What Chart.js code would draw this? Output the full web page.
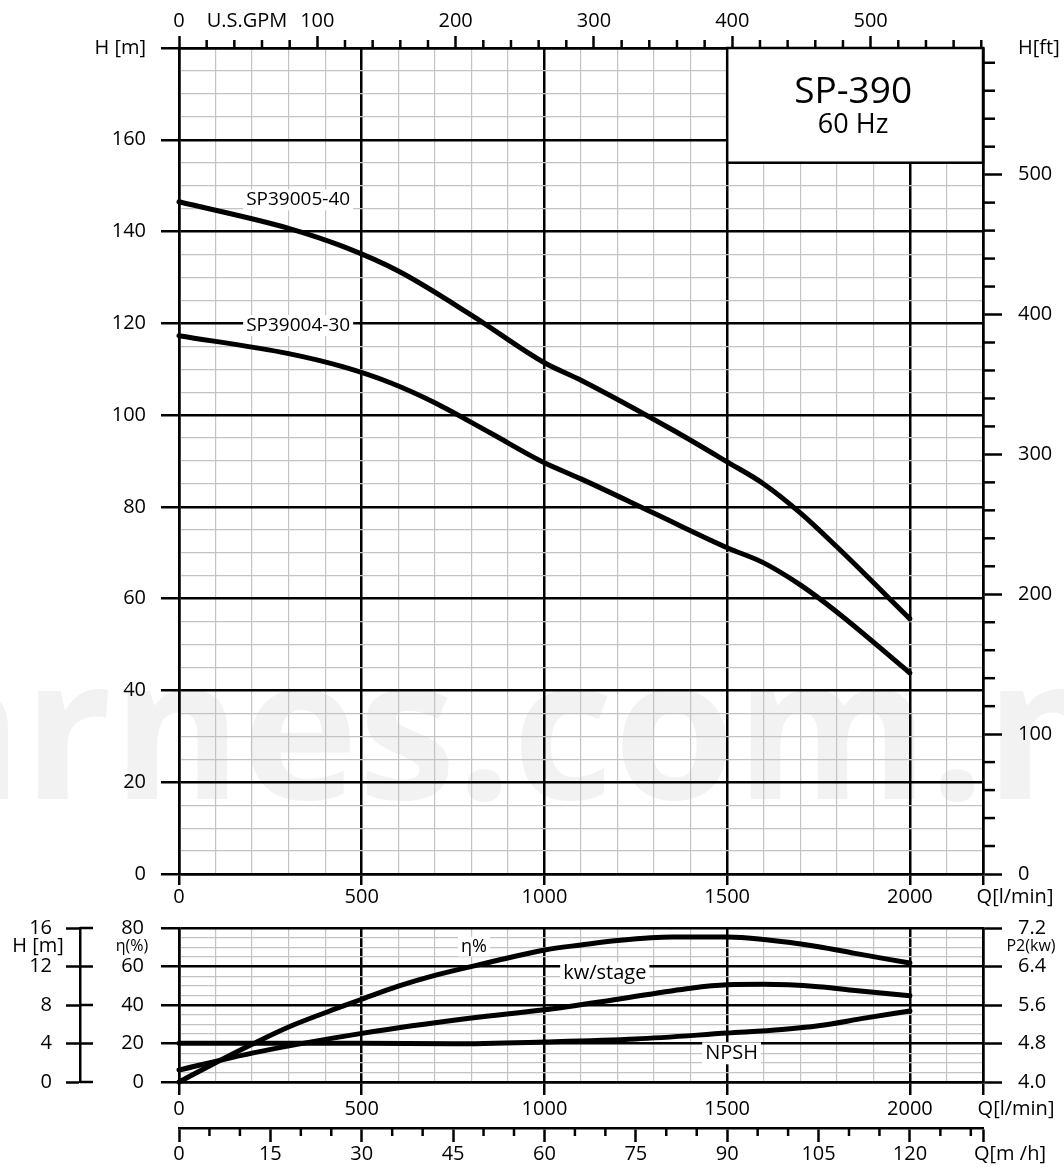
<!DOCTYPE html>
<html>
<head>
<meta charset="utf-8">
<script src="https://cdn.jsdelivr.net/npm/chart.js@4.4.1/dist/chart.umd.min.js"></script>
<style>
  html, body { margin: 0; padding: 0; background: #fff; }
  #wrap { position: relative; width: 1064px; height: 1168px; overflow: hidden; }
  #headChart { position: absolute; left: 0; top: 0; width: 1064px; height: 912px; }
  #perfChart { position: absolute; left: 0; top: 912px; width: 1064px; height: 256px; }
</style>
</head>
<body>
<div id="wrap">
  <canvas id="headChart" width="1064" height="912"></canvas>
  <canvas id="perfChart" width="1064" height="256"></canvas>
</div>
<script>
// ---------------- DATA ----------------
const Q_MAX = 2200;                 // l/min
const H_MAX = 180;                  // m

const curveNames = ["SP39005-40", "SP39004-30"];
const modelName = "SP-390";
const modelFreq = "60 Hz";

const qHead5 = [0, 300, 450, 600, 800, 1000, 1100, 1350, 1500, 1600, 1700, 1800, 2000];
const head5  = [146.5, 140.7, 136.7, 131.4, 121.8, 111.4, 107.6, 96.8, 89.8, 85.0, 78.7, 71.3, 55.6];

const qHead4 = [0, 300, 450, 580, 700, 850, 1000, 1100, 1300, 1500, 1600, 1700, 1800, 2000];
const head4  = [117.3, 113.4, 110.5, 107.0, 102.7, 96.2, 89.6, 86.1, 78.6, 71.1, 67.8, 63.0, 57.1, 43.8];

const qEta = [0, 100, 200, 300, 450, 500, 600, 700, 850, 1000, 1100, 1200, 1350, 1500, 1600, 1750, 1850, 2000];
const eta  = [0, 10.0, 19.6, 28.6, 39.5, 43.0, 49.8, 55.4, 62.2, 68.6, 71.2, 73.5, 75.3, 75.3, 74, 70.3, 66.8, 61.8];

const qKw   = [0, 200, 500, 800, 1000, 1200, 1400, 1500, 1600, 1750, 1850, 2000];
const kwStg = [4.25, 4.60, 5.01, 5.33, 5.50, 5.72, 5.95, 6.02, 6.03, 5.98, 5.90, 5.79];

const qNpsh = [0, 500, 750, 1000, 1250, 1500, 1650, 1750, 1880, 2000];
const npsh  = [4.02, 4.02, 3.97, 4.16, 4.47, 5.08, 5.45, 5.84, 6.66, 7.38];

// unit conversions for the secondary axes
const LMIN_PER_GPM = 3.785;
const LMIN_PER_M3H = 1000 / 60;
const M_PER_FT = 0.3048;

// ---------------- STYLE ----------------
const FONT = "'Open Sans', 'DejaVu Sans', sans-serif";
const BLACK = "#000";
const MINOR = "#c3c3c3";
const MAJOR_W = 2.5;
const MINOR_W = 1.2;

const pts = (xs, ys) => xs.map((x, i) => ({ x: x, y: ys[i] }));
const isMajorQ = v => v % 500 === 0 || v === Q_MAX;

// fixed box width, and no extra label padding pushed into the layout
const fixWidth = w => s => { s.width = w; s.paddingTop = 0; s.paddingBottom = 0; };

function curve(label, data, axis) {
    return {
        label: label,
        data: data,
        yAxisID: axis,
        borderColor: BLACK,
        borderWidth: 5,
        pointRadius: 0,
        borderCapStyle: "round",
        borderJoinStyle: "round",
        cubicInterpolationMode: "monotone",
        clip: false
    };
}

function qScale(height, tickLen, pad) {
    return {
        type: "linear", position: "bottom", min: 0, max: Q_MAX, weight: 0,
        afterFit: s => { s.height = height; },
        grid: {
            color: c => isMajorQ(c.tick.value) ? BLACK : MINOR,
            lineWidth: c => isMajorQ(c.tick.value) ? MAJOR_W : MINOR_W,
            tickColor: c => isMajorQ(c.tick.value) ? BLACK : "rgba(0,0,0,0)",
            tickLength: tickLen, tickWidth: MAJOR_W
        },
        border: { color: BLACK, width: MAJOR_W },
        ticks: {
            stepSize: 100, autoSkip: false, maxRotation: 0, minRotation: 0, padding: pad,
            color: BLACK, font: { family: FONT, size: 20 },
            callback: v => (v % 500 === 0 && v <= 2000 ? String(v) : "")
        }
    };
}

function line(c, x1, y1, x2, y2) {
    c.beginPath(); c.moveTo(x1, y1); c.lineTo(x2, y2); c.stroke();
}

function text(c, str, x, y, size, align) {
    c.font = `${size}px ${FONT}`;
    c.fillStyle = BLACK;
    c.textAlign = align || "center";
    c.textBaseline = "middle";
    c.fillText(str, x, y);
}

function boxedText(c, str, x, y, size) {
    c.font = `${size}px ${FONT}`;
    const w = c.measureText(str).width;
    c.fillStyle = "#fff";
    c.fillRect(x - w / 2 - 3, y - size * 0.55, w + 6, size * 1.1);
    text(c, str, x, y, size);
}

// ---------------- HEAD CHART ----------------
const headDecor = {
    id: "headDecor",
    beforeDraw(chart) {
        const c = chart.ctx;
        c.save();
        c.fillStyle = "#fff";
        c.fillRect(0, 0, chart.width, chart.height);
        // faint watermark
        c.font = `bold 197px ${FONT}`;
        c.fillStyle = "#f2f2f2";
        c.textAlign = "left";
        c.textBaseline = "alphabetic";
        const x0 = 456 - c.measureText("arnes").width;
        c.fillText("arnes.com.n", x0, 799);
        c.restore();
    },
    beforeDatasetsDraw(chart) {
        const c = chart.ctx;
        const { x, y } = chart.scales;
        const l = x.getPixelForValue(1500), r = x.getPixelForValue(Q_MAX);
        const t = y.getPixelForValue(H_MAX), b = y.getPixelForValue(155);
        c.save();
        c.fillStyle = "#fff";
        c.fillRect(l, t, r - l, b - t);
        c.strokeStyle = BLACK;
        c.lineWidth = MAJOR_W;
        c.strokeRect(l, t, r - l, b - t);
        c.font = `37px ${FONT}`;
        c.fillStyle = BLACK;
        c.textAlign = "center";
        c.textBaseline = "alphabetic";
        c.fillText(modelName, (l + r) / 2 - 2, t + 55);
        c.font = `27px ${FONT}`;
        c.fillText(modelFreq, (l + r) / 2 - 2, t + 85);
        c.restore();
    },
    afterDatasetsDraw(chart) {
        const c = chart.ctx;
        const { x, y } = chart.scales;
        c.save();
        boxedText(c, curveNames[0], x.getPixelForValue(326), y.getPixelForValue(146.9), 19);
        boxedText(c, curveNames[1], x.getPixelForValue(326), y.getPixelForValue(119.5), 19);
        c.restore();
    },
    afterDraw(chart) {
        const c = chart.ctx;
        const { x, gpm, ft } = chart.scales;
        c.save();
        c.strokeStyle = BLACK;
        c.lineWidth = MAJOR_W;
        for (let v = 20; v < 590; v += 20) {
            if (v % 100 === 0) continue;
            const px = gpm.getPixelForValue(v);
            line(c, px, gpm.bottom, px, gpm.bottom - 8);
            const py = ft.getPixelForValue(v);
            line(c, ft.left, py, ft.left + 12, py);
        }
        text(c, "U.S.GPM", 247, 21, 20);
        text(c, "H[ft]", ft.left + 35, gpm.bottom, 20, "left");
        text(c, "Q[l/min]", x.right + 32, x.top + 23, 20);
        c.restore();
    }
};

new Chart(document.getElementById("headChart"), {
    type: "line",
    data: {
        datasets: [
            curve(curveNames[0], pts(qHead5, head5), "y"),
            curve(curveNames[1], pts(qHead4, head4), "y")
        ]
    },
    options: {
        responsive: false,
        animation: false,
        devicePixelRatio: 1,
        layout: { padding: 0 },
        plugins: { legend: { display: false }, tooltip: { enabled: false } },
        scales: {
            x: qScale(38, 11, 0),
            gpm: {
                type: "linear", position: "top", min: 0, max: Q_MAX / LMIN_PER_GPM,
                afterFit: s => { s.height = 48; },
                grid: {
                    drawOnChartArea: false, tickLength: 12, tickWidth: MAJOR_W,
                    tickColor: c => c.tick.value % 100 === 0 ? BLACK : "rgba(0,0,0,0)"
                },
                border: { color: BLACK, width: MAJOR_W },
                ticks: {
                    stepSize: 20, includeBounds: false, autoSkip: false, maxRotation: 0, padding: 3,
                    color: BLACK, font: { family: FONT, size: 20 },
                    callback: v => (v % 100 === 0 ? String(v) : "")
                }
            },
            y: {
                type: "linear", position: "left", min: 0, max: H_MAX,
                afterFit: fixWidth(179),
                grid: {
                    color: c => c.tick.value % 20 === 0 ? BLACK : MINOR,
                    lineWidth: c => c.tick.value % 20 === 0 ? MAJOR_W : MINOR_W,
                    tickColor: c => c.tick.value % 20 === 0 ? BLACK : "rgba(0,0,0,0)",
                    tickLength: 18, tickWidth: MAJOR_W
                },
                border: { color: BLACK, width: MAJOR_W },
                ticks: {
                    stepSize: 5, autoSkip: false, padding: 15,
                    color: BLACK, font: { family: FONT, size: 20 },
                    callback: v => (v === H_MAX ? "H [m]" : v % 20 === 0 ? String(v) : "")
                }
            },
            ft: {
                type: "linear", position: "right", min: 0, max: H_MAX / M_PER_FT,
                afterFit: fixWidth(81),
                grid: {
                    drawOnChartArea: false, tickLength: 19, tickWidth: MAJOR_W,
                    tickColor: c => c.tick.value % 100 === 0 ? BLACK : "rgba(0,0,0,0)"
                },
                border: { color: BLACK, width: MAJOR_W },
                ticks: {
                    stepSize: 20, includeBounds: false, autoSkip: false, padding: 16,
                    color: BLACK, font: { family: FONT, size: 20 },
                    callback: v => (v % 100 === 0 ? String(v) : "")
                }
            }
        }
    },
    plugins: [headDecor]
});

// ---------------- PERFORMANCE CHART ----------------
const perfDecor = {
    id: "perfDecor",
    beforeDraw(chart) {
        const c = chart.ctx;
        c.save();
        c.fillStyle = "#fff";
        c.fillRect(0, 0, chart.width, chart.height);
        c.restore();
    },
    afterDatasetsDraw(chart) {
        const c = chart.ctx;
        const { x, eta: e } = chart.scales;
        c.save();
        boxedText(c, "η%", x.getPixelForValue(807), e.getPixelForValue(70.3), 18);
        boxedText(c, "kw/stage", x.getPixelForValue(1165), e.getPixelForValue(56.5), 20);
        boxedText(c, "NPSH", x.getPixelForValue(1512), e.getPixelForValue(14.9), 20);
        c.restore();
    },
    afterDraw(chart) {
        const c = chart.ctx;
        const { x, m3, hm, eta: e, p2 } = chart.scales;
        c.save();
        c.strokeStyle = BLACK;
        c.lineWidth = MAJOR_W;
        for (let v = 5; v < 132; v += 5) {
            if (v % 15 === 0) continue;
            const px = m3.getPixelForValue(v);
            line(c, px, m3.top, px, m3.top + 8);
        }
        hm.ticks.forEach(t => {
            const py = hm.getPixelForValue(t.value);
            line(c, hm.right, py, hm.right + 13, py);
        });
        const midY = e.getPixelForValue(70);
        text(c, "H [m]", 38, midY - 1, 20);
        text(c, "η(%)", 132, midY - 1, 16);
        text(c, "P2(kw)", p2.left + 48, midY - 1, 16);
        text(c, "Q[l/min]", x.right + 33, x.top + 27, 20);
        text(c, "Q[m /h]", m3.right + 27, m3.top + 26, 20);
        c.restore();
    }
};

new Chart(document.getElementById("perfChart"), {
    type: "line",
    data: {
        datasets: [
            curve("η%", pts(qEta, eta), "eta"),
            curve("kw/stage", pts(qKw, kwStg), "p2"),
            curve("NPSH", pts(qNpsh, npsh), "hm")
        ]
    },
    options: {
        responsive: false,
        animation: false,
        devicePixelRatio: 1,
        layout: { padding: { top: 16 } },
        plugins: { legend: { display: false }, tooltip: { enabled: false } },
        scales: {
            x: qScale(46, 13, 2),
            m3: {
                type: "linear", position: "bottom", min: 0, max: Q_MAX / LMIN_PER_M3H, weight: 1,
                afterFit: s => { s.height = 40; },
                afterBuildTicks: s => { s.ticks.push({ value: Q_MAX / LMIN_PER_M3H }); },
                grid: {
                    drawOnChartArea: false, tickLength: 14, tickWidth: MAJOR_W,
                    tickColor: c => (c.tick.value % 15 === 0 || c.tick.value > 131) ? BLACK : "rgba(0,0,0,0)"
                },
                border: { color: BLACK, width: MAJOR_W },
                ticks: {
                    stepSize: 5, includeBounds: false, autoSkip: false, maxRotation: 0, padding: 0,
                    color: BLACK, font: { family: FONT, size: 20 },
                    callback: v => (v % 15 === 0 && v <= 120 ? String(v) : "")
                }
            },
            eta: {
                type: "linear", position: "left", min: 0, max: 80, weight: 0,
                afterFit: fixWidth(99),
                grid: {
                    color: c => c.tick.value % 20 === 0 ? BLACK : MINOR,
                    lineWidth: c => c.tick.value % 20 === 0 ? MAJOR_W : MINOR_W,
                    tickColor: c => c.tick.value % 20 === 0 ? BLACK : "rgba(0,0,0,0)",
                    tickLength: 18, tickWidth: MAJOR_W
                },
                border: { color: BLACK, width: MAJOR_W },
                ticks: {
                    stepSize: 5, autoSkip: false, padding: 17,
                    color: BLACK, font: { family: FONT, size: 20 },
                    callback: v => (v % 20 === 0 ? String(v) : "")
                }
            },
            hm: {
                type: "linear", position: "left", min: 0, max: 16, weight: 1,
                afterFit: fixWidth(80),
                grid: { drawOnChartArea: false, tickLength: 14, tickWidth: MAJOR_W, tickColor: BLACK },
                border: { color: BLACK, width: MAJOR_W },
                ticks: {
                    stepSize: 4, autoSkip: false, padding: 14,
                    color: BLACK, font: { family: FONT, size: 20 }
                }
            },
            p2: {
                type: "linear", position: "right", min: 4.0, max: 7.2,
                afterFit: fixWidth(81),
                grid: { drawOnChartArea: false, tickLength: 19, tickWidth: MAJOR_W, tickColor: BLACK },
                border: { color: BLACK, width: MAJOR_W },
                ticks: {
                    stepSize: 0.8, autoSkip: false, padding: 16,
                    color: BLACK, font: { family: FONT, size: 20 },
                    callback: v => Number(v).toFixed(1)
                }
            }
        }
    },
    plugins: [perfDecor]
});
</script>
</body>
</html>
